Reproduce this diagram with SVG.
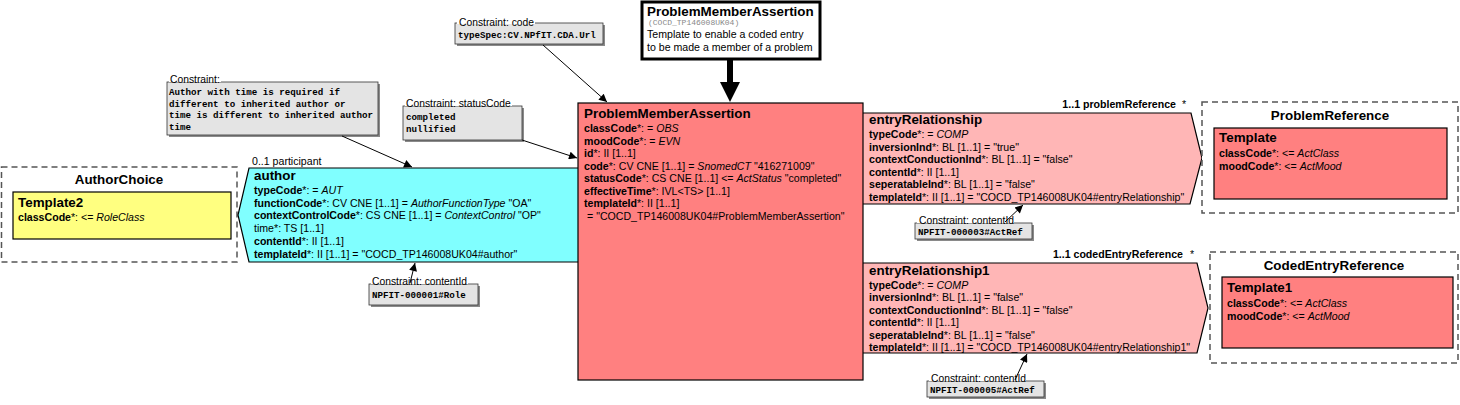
<svg xmlns="http://www.w3.org/2000/svg" width="1460" height="405" viewBox="0 0 1460 405">
<style>
text { font-family: "Liberation Sans", Arial, sans-serif; fill: #000; }
.ttl { font-size: 13.4px; font-weight: bold; }
.f { font-size: 10.6px; }
.b { font-weight: bold; }
.i { font-style: italic; }
.lbl { font-size: 10.3px; }
.mono { font-family: "Liberation Mono", "Courier New", monospace; font-weight: bold; font-size: 9.2px; }
.sub { font-family: "Liberation Mono", "Courier New", monospace; font-size: 8px; fill: #888; }
.dash { fill: #fff; stroke: #555; stroke-width: 1.5; stroke-dasharray: 6 4; }
.red { fill: #FF8080; stroke: #000; stroke-width: 1.2; }
.pink { fill: #FFB6B6; stroke: #000; stroke-width: 1.2; }
.cyan { fill: #80FFFF; stroke: #000; stroke-width: 1.2; }
.yel { fill: #FFFF80; stroke: #000; stroke-width: 1.2; }
.nbox { fill: #E4E4E4; stroke: #333; stroke-width: 0.8; }
.nsh { fill: #8a8a8a; }
.conn { stroke: #000; stroke-width: 1; fill: none; marker-end: url(#ah); }
</style>
<defs>
<marker id="ah" viewBox="0 0 10 10" refX="10" refY="5" markerWidth="10" markerHeight="8" markerUnits="userSpaceOnUse" orient="auto"><path d="M0,0 L10,5 L0,10 z" fill="#000"/></marker>
</defs>
<rect width="1460" height="405" fill="#fff"/>

<g id="AuthorChoice">
<rect class="dash" x="1.5" y="167" width="235.5" height="95"/>
<text class="ttl" x="119" y="184" text-anchor="middle">AuthorChoice</text>
<rect class="yel" x="13" y="192" width="218" height="47"/>
<text class="ttl" x="18" y="207">Template2</text>
<text class="f" x="18" y="221"><tspan class="b">classCode</tspan>*: &lt;= <tspan class="i">RoleClass</tspan></text>
</g>

<g id="author">
<path class="cyan" d="M249,168 L580,168 L580,262 L249,262 L238,215 Z"/>
<text class="ttl" x="254" y="180">author</text>
<text class="f" x="254" y="194"><tspan class="b">typeCode</tspan>*: = <tspan class="i">AUT</tspan></text>
<text class="f" x="254" y="206.7"><tspan class="b">functionCode</tspan>*: CV CNE [1..1] = <tspan class="i">AuthorFunctionType</tspan> "OA"</text>
<text class="f" x="254" y="219.4"><tspan class="b">contextControlCode</tspan>*: CS CNE [1..1] = <tspan class="i">ContextControl</tspan> "OP"</text>
<text class="f" x="254" y="232.1">time*: TS [1..1]</text>
<text class="f" x="254" y="244.8"><tspan class="b">contentId</tspan>*: II [1..1]</text>
<text class="f" x="254" y="257.5"><tspan class="b">templateId</tspan>*: II [1..1] = "COCD_TP146008UK04#author"</text>
<text class="f" x="252" y="165">0..1 participant</text>
</g>

<g id="entryRelationship">
<path class="pink" d="M860,113 L1191,113 L1202,158 L1190,204 L860,204 Z"/>
<text class="ttl" x="869" y="124">entryRelationship</text>
<text class="f" x="869" y="138"><tspan class="b">typeCode</tspan>*: = <tspan class="i">COMP</tspan></text>
<text class="f" x="869" y="150.5"><tspan class="b">inversionInd</tspan>*: BL [1..1] = "true"</text>
<text class="f" x="869" y="163"><tspan class="b">contextConductionInd</tspan>*: BL [1..1] = "false"</text>
<text class="f" x="869" y="175.5"><tspan class="b">contentId</tspan>*: II [1..1]</text>
<text class="f" x="869" y="188"><tspan class="b">seperatableInd</tspan>*: BL [1..1] = "false"</text>
<text class="f" x="869" y="200.5"><tspan class="b">templateId</tspan>*: II [1..1] = "COCD_TP146008UK04#entryRelationship"</text>
<text class="f b" x="1176" y="108" text-anchor="end">1..1 problemReference</text>
<text class="f" x="1182" y="108">*</text>
</g>

<g id="entryRelationship1">
<path class="pink" d="M860,263 L1197,263 L1208,308 L1197,353 L860,353 Z"/>
<text class="ttl" x="869" y="275">entryRelationship1</text>
<text class="f" x="869" y="288.5"><tspan class="b">typeCode</tspan>*: = <tspan class="i">COMP</tspan></text>
<text class="f" x="869" y="301"><tspan class="b">inversionInd</tspan>*: BL [1..1] = "false"</text>
<text class="f" x="869" y="313.5"><tspan class="b">contextConductionInd</tspan>*: BL [1..1] = "false"</text>
<text class="f" x="869" y="326"><tspan class="b">contentId</tspan>*: II [1..1]</text>
<text class="f" x="869" y="338.5"><tspan class="b">seperatableInd</tspan>*: BL [1..1] = "false"</text>
<text class="f" x="869" y="351"><tspan class="b">templateId</tspan>*: II [1..1] = "COCD_TP146008UK04#entryRelationship1"</text>
<text class="f b" x="1183" y="258" text-anchor="end">1..1 codedEntryReference</text>
<text class="f" x="1190" y="258">*</text>
</g>

<g id="ProblemMemberAssertion">
<rect class="red" x="578" y="103" width="285" height="277"/>
<text class="ttl" x="584" y="118">ProblemMemberAssertion</text>
<text class="f" x="584" y="132"><tspan class="b">classCode</tspan>*: = <tspan class="i">OBS</tspan></text>
<text class="f" x="584" y="144.5"><tspan class="b">moodCode</tspan>*: = <tspan class="i">EVN</tspan></text>
<text class="f" x="584" y="157"><tspan class="b">id</tspan>*: II [1..1]</text>
<text class="f" x="584" y="169.5"><tspan class="b">code</tspan>*: CV CNE [1..1] = <tspan class="i">SnomedCT</tspan> "416271009"</text>
<text class="f" x="584" y="182"><tspan class="b">statusCode</tspan>*: CS CNE [1..1] &lt;= <tspan class="i">ActStatus</tspan> "completed"</text>
<text class="f" x="584" y="194.5"><tspan class="b">effectiveTime</tspan>*: IVL&lt;TS&gt; [1..1]</text>
<text class="f" x="584" y="207"><tspan class="b">templateId</tspan>*: II [1..1]</text>
<text class="f" x="587" y="219.5">= "COCD_TP146008UK04#ProblemMemberAssertion"</text>
</g>

<g id="header">
<rect x="642" y="2" width="178" height="57" fill="#fff" stroke="#000" stroke-width="3"/>
<text class="ttl" x="647" y="16">ProblemMemberAssertion</text>
<text class="sub" x="648" y="25">(COCD_TP146008UK04)</text>
<text class="f" x="647" y="38">Template to enable a coded entry</text>
<text class="f" x="647" y="51">to be made a member of a problem</text>
</g>

<g id="ProblemReference">
<rect class="dash" x="1202" y="102" width="256" height="111"/>
<text class="ttl" x="1330" y="120" text-anchor="middle">ProblemReference</text>
<rect class="red" x="1214" y="128" width="233" height="71"/>
<text class="ttl" x="1219" y="142">Template</text>
<text class="f" x="1219" y="157"><tspan class="b">classCode</tspan>*: &lt;= <tspan class="i">ActClass</tspan></text>
<text class="f" x="1219" y="170"><tspan class="b">moodCode</tspan>*: &lt;= <tspan class="i">ActMood</tspan></text>
</g>

<g id="CodedEntryReference">
<rect class="dash" x="1210" y="252" width="248" height="111"/>
<text class="ttl" x="1334" y="270" text-anchor="middle">CodedEntryReference</text>
<rect class="red" x="1222" y="277" width="231" height="71"/>
<text class="ttl" x="1227" y="292">Template1</text>
<text class="f" x="1227" y="307"><tspan class="b">classCode</tspan>*: &lt;= <tspan class="i">ActClass</tspan></text>
<text class="f" x="1227" y="320"><tspan class="b">moodCode</tspan>*: &lt;= <tspan class="i">ActMood</tspan></text>
</g>

<g id="constraint-code">
<rect class="nsh" x="457" y="25" width="148" height="21"/>
<rect class="nbox" x="455" y="23" width="148" height="21"/>
<rect x="457" y="16" width="78" height="8" fill="#fff"/>
<text class="lbl" x="459" y="26">Constraint: code</text>
<text class="mono" x="458" y="38">typeSpec:CV.NPfIT.CDA.Url</text>
</g>

<g id="constraint-author">
<rect class="nsh" x="169" y="84" width="211" height="53"/>
<rect class="nbox" x="167" y="82" width="211" height="53"/>
<rect x="169" y="74" width="52" height="8" fill="#fff"/>
<text class="lbl" x="170" y="83">Constraint:</text>
<text class="mono" x="169" y="95">Author with time is required if</text>
<text class="mono" x="169" y="106.5">different to inherited author or</text>
<text class="mono" x="169" y="118">time is different to inherited author</text>
<text class="mono" x="169" y="129.5">time</text>
</g>

<g id="constraint-statusCode">
<rect class="nsh" x="405" y="108" width="119" height="34"/>
<rect class="nbox" x="403" y="106" width="119" height="34"/>
<rect x="405" y="98" width="107" height="8" fill="#fff"/>
<text class="lbl" x="406" y="107">Constraint: statusCode</text>
<text class="mono" x="406" y="120">completed</text>
<text class="mono" x="406" y="132">nullified</text>
</g>

<g id="constraint-contentId1">
<rect class="nsh" x="371" y="286" width="109" height="21"/>
<rect class="nbox" x="369" y="284" width="109" height="21"/>
<rect x="371" y="276" width="97" height="8" fill="#fff"/>
<text class="lbl" x="372" y="285">Constraint: contentId</text>
<text class="mono" x="372" y="298">NPFIT-000001#Role</text>
</g>

<g id="constraint-contentId3">
<rect class="nsh" x="917" y="225" width="117" height="16"/>
<rect class="nbox" x="915" y="223" width="117" height="16"/>
<rect x="917" y="215" width="97" height="8" fill="#fff"/>
<text class="lbl" x="919" y="224">Constraint: contentId</text>
<text class="mono" x="918" y="235">NPFIT-000003#ActRef</text>
</g>

<g id="constraint-contentId5">
<rect class="nsh" x="929" y="383" width="117" height="16"/>
<rect class="nbox" x="927" y="381" width="117" height="16"/>
<rect x="929" y="373" width="97" height="8" fill="#fff"/>
<text class="lbl" x="931" y="382">Constraint: contentId</text>
<text class="mono" x="930" y="393">NPFIT-000005#ActRef</text>
</g>

<g id="connectors">
<line class="conn" x1="543" y1="45" x2="607" y2="102"/>
<line class="conn" x1="342" y1="136" x2="412" y2="167"/>
<line class="conn" x1="522" y1="140" x2="577" y2="158"/>
<line class="conn" x1="410" y1="283" x2="415" y2="263"/>
<line class="conn" x1="1005" y1="222" x2="1023" y2="205"/>
<line class="conn" x1="1015" y1="380" x2="1027" y2="354"/>
<line x1="730" y1="60" x2="730" y2="84" stroke="#000" stroke-width="6"/>
<polygon points="720,82 740,82 730,102" fill="#000"/>
</g>
</svg>
